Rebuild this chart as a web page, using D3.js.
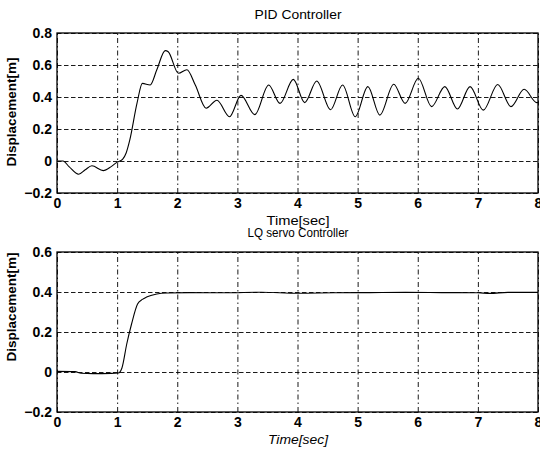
<!DOCTYPE html>
<html>
<head>
<meta charset="utf-8">
<script src="https://cdn.jsdelivr.net/npm/d3@7"></script>
<style>
  body { margin: 0; background: #fff; }
  svg { display: block; font-family: "Liberation Sans", Arial, sans-serif; }
</style>
</head>
<body>
<div id="chart"></div>
<script>
// time ticks shared by both panels
var xTicks = [0, 1, 2, 3, 4, 5, 6, 7, 8];
var pidYTicks = [-0.2, 0, 0.2, 0.4, 0.6, 0.8];
var lqYTicks = [-0.2, 0, 0.2, 0.4, 0.6];

// PID response (peaks and troughs)
var pidTime = [0, 0.1, 0.2, 0.36, 0.47, 0.58, 0.77, 0.9, 0.99, 1.09, 1.15, 1.21, 1.33, 1.42, 1.55, 1.66,
  1.8, 1.85, 2.02, 2.16, 2.3, 2.48, 2.66, 2.87, 3.06, 3.29, 3.52, 3.71, 3.93, 4.12, 4.32, 4.55,
  4.75, 4.96, 5.17, 5.37, 5.6, 5.79, 6.01, 6.23, 6.45, 6.66, 6.87, 7.09, 7.33, 7.55, 7.77, 7.98, 8.0];
var pidDisp = [0, 0, -0.035, -0.083, -0.055, -0.03, -0.06, -0.035, -0.01, 0.01, 0.05, 0.13, 0.36, 0.485, 0.475, 0.57,
  0.69, 0.683, 0.548, 0.57, 0.475, 0.33, 0.38, 0.277, 0.41, 0.29, 0.475, 0.36, 0.51, 0.365, 0.5, 0.32,
  0.475, 0.277, 0.465, 0.287, 0.48, 0.36, 0.517, 0.34, 0.465, 0.325, 0.465, 0.318, 0.478, 0.34, 0.448, 0.365, 0.366];

// LQ servo response
var lqTime = [0, 0.3, 0.4, 0.6, 0.9, 1.02, 1.08, 1.16, 1.24, 1.34, 1.42, 1.49, 1.66, 1.83, 2.2, 2.8,
  3.4, 4.0, 4.6, 5.2, 5.8, 6.4, 7.0, 7.2, 7.5, 8.0];
var lqDisp = [0.003, 0.002, -0.006, -0.008, -0.007, -0.005, 0.02, 0.14, 0.24, 0.34, 0.363, 0.375, 0.39, 0.395, 0.397, 0.396,
  0.399, 0.394, 0.396, 0.397, 0.398, 0.397, 0.396, 0.393, 0.398, 0.398];

var width = 540, height = 450;
var svg = d3.select("#chart").append("svg")
    .attr("width", width)
    .attr("height", height);

var panels = [
  {title: "PID Controller", titleY: 19, titleLen: 87, top: 33, bottom: 193, yDomain: [-0.2, 0.8], yTicks: pidYTicks,
   t: pidTime, v: pidDisp, xLabelY: 225, xLabelLen: 63, italic: false, yLabelY: 112},
  {title: "LQ servo Controller", titleY: 237, titleLen: 101, top: 252, bottom: 412, yDomain: [-0.2, 0.6], yTicks: lqYTicks,
   t: lqTime, v: lqDisp, xLabelY: 444, xLabelLen: 60, italic: true, yLabelY: 307}
];

var left = 57, right = 538;

panels.forEach(function(p) {
  var x = d3.scaleLinear().domain([0, 8]).range([left, right]);
  var y = d3.scaleLinear().domain(p.yDomain).range([p.bottom, p.top]);
  var h = p.bottom - p.top;

  var g = svg.append("g");

  // grid lines
  g.append("g")
      .attr("transform", "translate(0," + p.bottom + ")")
      .call(d3.axisBottom(x).tickValues(xTicks).tickSize(-h).tickFormat(""))
      .call(function(a) {
        a.select(".domain").remove();
        a.selectAll("line").attr("stroke", "#000").attr("stroke-width", 0.9)
          .attr("stroke-dasharray", "5,3,1.5,3");
      });
  g.append("g")
      .attr("transform", "translate(" + left + ",0)")
      .call(d3.axisLeft(y).tickValues(p.yTicks).tickSize(-(right - left)).tickFormat(""))
      .call(function(a) {
        a.select(".domain").remove();
        a.selectAll("line").attr("stroke", "#000").attr("stroke-width", 0.9)
          .attr("stroke-dasharray", "4.5,2.5");
      });

  // tick labels
  g.append("g")
      .attr("transform", "translate(0," + p.bottom + ")")
      .call(d3.axisBottom(x).tickValues(xTicks).tickSize(0).tickPadding(5).tickFormat(d3.format("d")))
      .call(function(a) {
        a.select(".domain").remove();
        a.selectAll("text").attr("fill", "#000").style("font-size", "14px").style("font-weight", "bold")
          .style("font-family", "'Liberation Sans', Arial, sans-serif");
      });
  g.append("g")
      .attr("transform", "translate(" + left + ",0)")
      .call(d3.axisLeft(y).tickValues(p.yTicks).tickSize(0).tickPadding(5)
        .tickFormat(function(d) { return Math.abs(d) < 1e-9 ? "0" : d3.format(".1f")(d); }))
      .call(function(a) {
        a.select(".domain").remove();
        a.selectAll("text").attr("fill", "#000").style("font-size", "14px").style("font-weight", "bold")
          .style("font-family", "'Liberation Sans', Arial, sans-serif");
      });

  // box
  g.append("rect")
      .attr("x", left).attr("y", p.top)
      .attr("width", right - left).attr("height", h)
      .attr("fill", "none").attr("stroke", "#000").attr("stroke-width", 1.3);

  // curve
  var pts = p.t.map(function(t, i) { return [t, p.v[i]]; });
  var line = d3.line()
      .x(function(d) { return x(d[0]); })
      .y(function(d) { return y(d[1]); })
      .curve(d3.curveMonotoneX);
  g.append("path")
      .datum(pts)
      .attr("d", line)
      .attr("fill", "none")
      .attr("stroke", "#000")
      .attr("stroke-width", 1.1);

  // title
  g.append("text")
      .attr("x", 298).attr("y", p.titleY)
      .attr("text-anchor", "middle")
      .attr("textLength", p.titleLen).attr("lengthAdjust", "spacingAndGlyphs")
      .style("font-size", "13px")
      .text(p.title);

  // x label
  g.append("text")
      .attr("x", 298).attr("y", p.xLabelY)
      .attr("text-anchor", "middle")
      .attr("textLength", p.xLabelLen).attr("lengthAdjust", "spacingAndGlyphs")
      .style("font-size", "13px")
      .style("font-style", p.italic ? "italic" : "normal")
      .text("Time[sec]");

  // y label
  g.append("text")
      .attr("transform", "translate(16," + p.yLabelY + ") rotate(-90)")
      .attr("text-anchor", "middle")
      .style("font-size", "13.5px")
      .style("font-weight", "bold")
      .text("Displacement[m]");
});
</script>
</body>
</html>
